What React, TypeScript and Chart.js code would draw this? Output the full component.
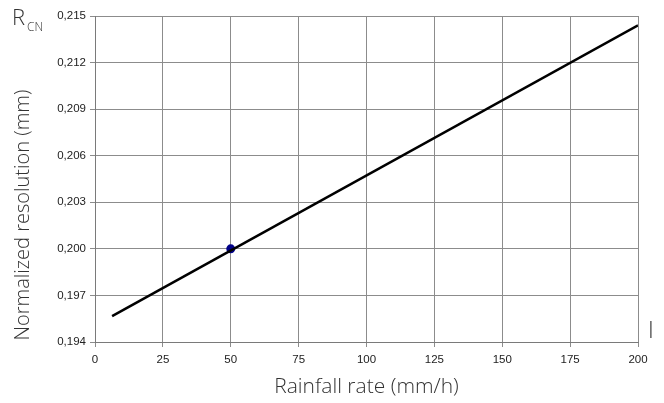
import React, { useEffect, useRef } from "react";
import { Chart, registerables } from "chart.js";

Chart.register(...registerables);

// Data
const lineRain = [6.3, 200];
const lineRes = [0.19567, 0.2144];
const markRain = [50];
const markRes = [0.2];
const xTicks = [0, 25, 50, 75, 100, 125, 150, 175, 200];
const yTicks = [0.194, 0.197, 0.2, 0.203, 0.206, 0.209, 0.212, 0.215];
const xTitle = "Rainfall rate (mm/h)";
const yTitle = "Normalized resolution (mm)";
const cornerMain = "R";
const cornerSub = "CN";
const rightLabel = "I";

const titleColor = "#333333";

const textPlugin = {
  id: "extraText",
  afterDraw(chart: any) {
    const ctx = chart.ctx;
    const area = chart.chartArea;
    ctx.save();
    ctx.fillStyle = titleColor;
    // x title
    ctx.font = '300 21px "Open Sans", "Noto Sans", sans-serif';
    ctx.textAlign = "center";
    ctx.textBaseline = "alphabetic";
    ctx.fillText(xTitle, (area.left + area.right) / 2, 393);
    // y title
    ctx.save();
    ctx.font = '300 20px "Open Sans", "Noto Sans", sans-serif';
    ctx.translate(29, 215);
    ctx.rotate(-Math.PI / 2);
    ctx.textAlign = "center";
    ctx.fillText(yTitle, 0, 0);
    ctx.restore();
    // corner label R_CN
    ctx.textAlign = "left";
    ctx.font = '300 22px "Open Sans", "Noto Sans", sans-serif';
    ctx.fillText(cornerMain, 12, 25);
    ctx.font = '300 12px "Open Sans", "Noto Sans", sans-serif';
    ctx.fillText(cornerSub, 27, 31);
    // right label
    ctx.font = '300 23px "Open Sans", "Noto Sans", sans-serif';
    ctx.textAlign = "center";
    ctx.fillText(rightLabel, 651, 338);
    ctx.restore();
  },
};

export default function App() {
  const ref = useRef<HTMLCanvasElement>(null);

  useEffect(() => {
    if (!ref.current) return;
    const chart = new Chart(ref.current, {
      type: "scatter",
      data: {
        datasets: [
          {
            data: lineRain.map((x, i) => ({ x, y: lineRes[i] })),
            showLine: true,
            borderColor: "#000000",
            borderWidth: 2.5,
            pointRadius: 0,
            pointHoverRadius: 0,
          },
          {
            data: markRain.map((x, i) => ({ x, y: markRes[i] })),
            showLine: false,
            backgroundColor: "#000088",
            borderColor: "#000088",
            pointRadius: 4.5,
            borderWidth: 0,
          },
        ],
      },
      options: {
        responsive: false,
        animation: false,
        devicePixelRatio: 1,
        layout: { padding: { left: 0, top: 16, right: 26, bottom: 0 } },
        plugins: {
          legend: { display: false },
          tooltip: { enabled: false },
        },
        scales: {
          x: {
            type: "linear",
            min: 0,
            max: 200,
            afterBuildTicks: (s: any) => {
              s.ticks = xTicks.map((v) => ({ value: v }));
            },
            afterFit: (s: any) => {
              s.height = 61;
            },
            ticks: {
              color: "#222",
              font: { family: '"Liberation Sans", Arial, sans-serif', size: 11.5 },
              padding: 6,
              maxRotation: 0,
              callback: (v: any) => String(v),
            },
            grid: { color: "#8c8c8c", lineWidth: 1, tickLength: 5 },
            border: { color: "#7a7a7a", width: 1 },
          },
          y: {
            type: "linear",
            min: 0.194,
            max: 0.215,
            afterBuildTicks: (s: any) => {
              s.ticks = yTicks.map((v) => ({ value: v }));
            },
            afterFit: (s: any) => {
              s.width = 95;
            },
            ticks: {
              color: "#222",
              font: { family: '"Liberation Sans", Arial, sans-serif', size: 11.5 },
              padding: 4,
              callback: (v: any) => Number(v).toFixed(3).replace(".", ","),
            },
            grid: { color: "#8c8c8c", lineWidth: 1, tickLength: 5 },
            border: { color: "#7a7a7a", width: 1 },
          },
        },
      },
      plugins: [textPlugin],
    } as any);
    return () => chart.destroy();
  }, []);

  return (
    <div style={{ position: "absolute", left: 0, top: 0, width: 664, height: 403, background: "#fff" }}>
      <canvas ref={ref} width={664} height={403} style={{ width: 664, height: 403, display: "block" }} />
    </div>
  );
}
